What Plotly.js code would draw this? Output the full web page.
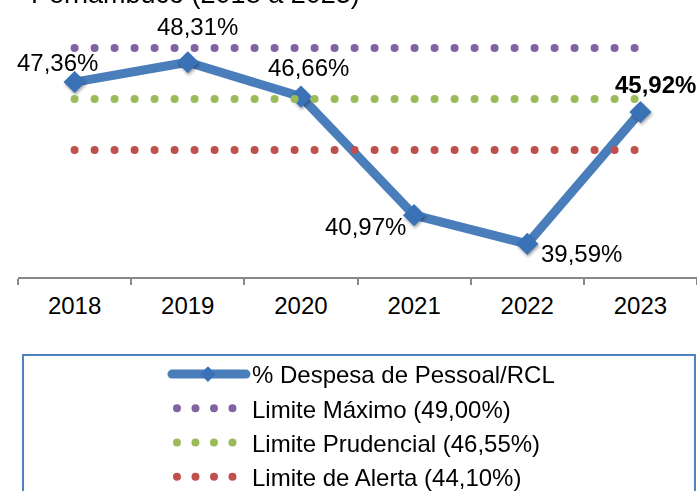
<!DOCTYPE html>
<html><head><meta charset="utf-8">
<script src="https://cdn.plot.ly/plotly-3.0.1.min.js"></script>
<style>html,body{margin:0;padding:0;background:#fff}#chart{width:697px;height:491px}</style>
</head><body><div id="chart"></div>
<script>
// ---- data ----
const years = ['2018', '2019', '2020', '2021', '2022', '2023'];
const despesa = [47.36, 48.31, 46.66, 40.97, 39.59, 45.92];
const limiteMaximo = [49.00, 49.00, 49.00, 49.00, 49.00, 49.00];
const limitePrudencial = [46.55, 46.55, 46.55, 46.55, 46.55, 46.55];
const limiteAlerta = [44.10, 44.10, 44.10, 44.10, 44.10, 44.10];
const seriesNames = ['% Despesa de Pessoal/RCL', 'Limite Máximo (49,00%)', 'Limite Prudencial (46,55%)', 'Limite de Alerta (44,10%)'];
const titleText = 'Pernambuco (2018 a 2023)';

// ---- styling ----
const FONT = 'Liberation Sans, Arial, sans-serif';
const labelDx = [-17, 10, 8, -49, 54, 15];
const labelDy = [20, 36, 29, -11, -10, 28];
const fmt = v => v.toFixed(2).replace('.', ',') + '%';

const data = [
  {x: years, y: despesa, name: seriesNames[0], type: 'scatter', mode: 'lines+markers',
   line: {color: '#4A7EBB', width: 9},
   marker: {symbol: 'diamond', size: 17, color: '#3A72B8', line: {width: 0}}},
  {x: years, y: limiteMaximo, name: seriesNames[1], type: 'scatter', mode: 'lines',
   line: {color: '#8064A2', width: 8, dash: 'dot'}},
  {x: years, y: limitePrudencial, name: seriesNames[2], type: 'scatter', mode: 'lines',
   line: {color: '#9BBB59', width: 8, dash: 'dot'}},
  {x: years, y: limiteAlerta, name: seriesNames[3], type: 'scatter', mode: 'lines',
   line: {color: '#C0504D', width: 8, dash: 'dot'}}
];

// category axis: annotation x uses the category's serial index
const annotations = despesa.map((v, i) => ({
  x: years.indexOf(years[i]), y: v, xref: 'x', yref: 'y', showarrow: false,
  xanchor: 'center', yanchor: 'middle', xshift: labelDx[i], yshift: labelDy[i],
  text: i === despesa.length - 1 ? '<b>' + fmt(v) + '</b>' : fmt(v),
  font: {family: FONT, size: 24, color: '#000'}
}));
annotations.push({
  xref: 'paper', yref: 'paper', x: 0.0162, y: 1, xanchor: 'left', yanchor: 'bottom',
  yshift: -11, showarrow: false, text: titleText,
  font: {family: FONT, size: 27, color: '#000'}
});

const layout = {
  width: 697, height: 491,
  margin: {l: 18, r: 0, t: 0, b: 214, autoexpand: false},
  paper_bgcolor: '#fff', plot_bgcolor: 'rgba(0,0,0,0)',
  showlegend: true,
  xaxis: {type: 'category', range: [-0.5, 5.5], tickson: 'boundaries', ticks: 'outside',
    ticklen: 6, tickwidth: 2, tickcolor: '#888', showline: true, linecolor: '#888', linewidth: 2,
    showgrid: false, zeroline: false, fixedrange: true, ticklabelstandoff: 6,
    tickfont: {family: FONT, size: 24, color: '#000'}},
  yaxis: {range: [38.0, 51.3], showticklabels: false, showline: false, showgrid: false,
    zeroline: false, ticks: '', fixedrange: true},
  legend: {x: 0.2194, xanchor: 'left', y: -0.2707, yanchor: 'top',
    font: {family: FONT, size: 24, color: '#000'}, bgcolor: 'rgba(0,0,0,0)',
    borderwidth: 0, itemwidth: 75, traceorder: 'normal'},
  shapes: [{type: 'rect', xref: 'paper', yref: 'paper', x0: 0.0074, x1: 0.997, y0: -0.2816, y1: -0.9,
    line: {color: '#4F81BD', width: 2}, fillcolor: 'rgba(0,0,0,0)', layer: 'below'}],
  annotations: annotations
};

Plotly.newPlot('chart', data, layout, {staticPlot: true, displayModeBar: false}).then(gd => {
  gd.querySelectorAll('.scatterlayer .trace').forEach((tr, i) => {
    const p = tr.querySelector('path.js-line');
    if (p) {
      p.style.strokeLinecap = 'round';
      p.style.strokeLinejoin = 'round';
      if (i > 0) p.style.strokeDasharray = '0,20';
    }
    if (i === 0) {
      const pts = tr.querySelector('.points');
      if (pts) pts.style.filter = 'drop-shadow(1.5px 2px 1.5px rgba(0,0,0,0.35))';
    }
  });
  gd.querySelectorAll('.legend .traces').forEach((tr, i) => {
    const p = tr.querySelector('.legendlines path');
    if (p) {
      p.setAttribute('d', i === 0 ? 'M5,0h74' : 'M10,0h56');
      p.style.strokeLinecap = 'round';
      if (i > 0) p.style.strokeDasharray = '0,18.5';
    }
    tr.querySelectorAll('.legendpoints path').forEach(pt => pt.setAttribute('transform', 'translate(41,0) scale(0.75)'));
  });
});
</script>
</body></html>
